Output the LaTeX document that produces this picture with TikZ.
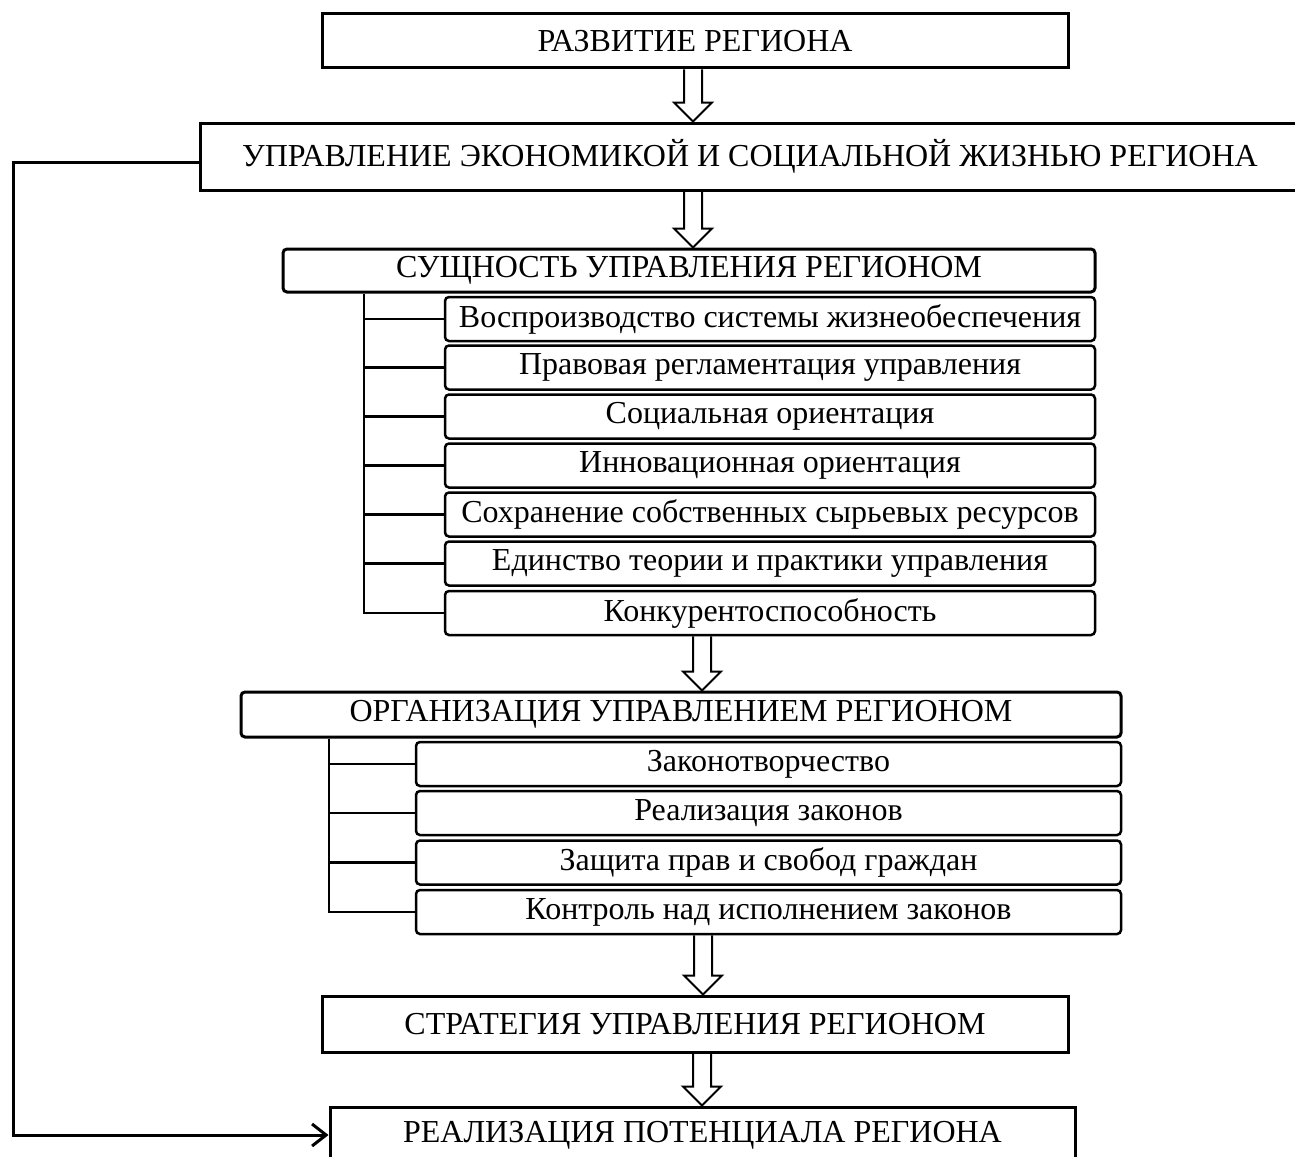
\documentclass[tikz,border=0pt]{standalone}
\usepackage{fontspec}
\setmainfont{Liberation Serif}
\usetikzlibrary{arrows.meta,calc}
\newcommand\harrow[3]{%
  \draw[line width=2pt, line join=miter] let \p1=(#2.south), \p2=(#3.north) in
    (#1pt-9pt,\y1) -- (#1pt-9pt,\y2+19pt) -- (#1pt-19pt,\y2+19pt) -- (#1pt,\y2)
    -- (#1pt+19pt,\y2+19pt) -- (#1pt+9pt,\y2+19pt) -- (#1pt+9pt,\y1);}
\begin{document}
\begin{tikzpicture}[x=1pt,y=-1pt,
  txt/.style={font=\fontsize{32}{38}\selectfont},
  bigbox/.style={draw, line width=3pt, inner sep=0pt, txt},
  topbox/.style={draw, line width=3pt, rounded corners=4pt, inner sep=0pt, txt},
  subbox/.style={draw, line width=2.5pt, rounded corners=4pt, inner sep=0pt, txt,
    minimum height=44pt},
  tree/.style={line width=2.6pt},
  fb/.style={line width=3pt, -{Straight Barb[length=14pt,width=22pt,line width=3pt]}}]
\useasboundingbox (0,0) rectangle (1295,1156);
\clip (0,0) rectangle (1295,1156);

\node[bigbox, minimum width=746pt, minimum height=54pt] (b1) at (695,41) {РАЗВИТИЕ РЕГИОНА};
\node[bigbox, minimum width=1100pt, minimum height=67pt] (b2) at (750,156.5) {УПРАВЛЕНИЕ ЭКОНОМИКОЙ И СОЦИАЛЬНОЙ ЖИЗНЬЮ РЕГИОНА};
\node[topbox, minimum width=812pt, minimum height=43pt] (b3) at (689,270.5) {СУЩНОСТЬ УПРАВЛЕНИЯ РЕГИОНОМ};

\node[subbox, minimum width=650pt] (s1) at (770,319) {Воспроизводство системы жизнеобеспечения};
\node[subbox, minimum width=650pt] (s2) at (770,367.5) {Правовая регламентация управления};
\node[subbox, minimum width=650pt] (s3) at (770,416.5) {Социальная ориентация};
\node[subbox, minimum width=650pt] (s4) at (770,465.5) {Инновационная ориентация};
\node[subbox, minimum width=650pt] (s5) at (770,514.5) {Сохранение собственных сырьевых ресурсов};
\node[subbox, minimum width=650pt] (s6) at (770,563.5) {Единство теории и практики управления};
\node[subbox, minimum width=650pt] (s7) at (770,613) {Конкурентоспособность};

\node[topbox, minimum width=880pt, minimum height=45pt] (b4) at (681,714.5) {ОРГАНИЗАЦИЯ УПРАВЛЕНИЕМ РЕГИОНОМ};

\node[subbox, minimum width=705pt] (t1) at (768.5,764) {Законотворчество};
\node[subbox, minimum width=705pt] (t2) at (768.5,813) {Реализация законов};
\node[subbox, minimum width=705pt] (t3) at (768.5,862.5) {Защита прав и свобод граждан};
\node[subbox, minimum width=705pt] (t4) at (768.5,912) {Контроль над исполнением законов};

\node[bigbox, minimum width=746pt, minimum height=56pt] (b5) at (695,1024) {СТРАТЕГИЯ УПРАВЛЕНИЯ РЕГИОНОМ};
\node[bigbox, minimum width=745pt, minimum height=56pt] (b6) at (702.5,1135) {РЕАЛИЗАЦИЯ ПОТЕНЦИАЛА РЕГИОНА};

% trees
\coordinate (ta) at (364,0);
\coordinate (tb) at (329,0);
\draw[tree] (b3.south -| ta) |- (s7.west);
\foreach \n in {s1,s2,s3,s4,s5,s6} \draw[tree] (\n.west -| ta) -- (\n.west);
\draw[tree] (b4.south -| tb) |- (t4.west);
\foreach \n in {t1,t2,t3} \draw[tree] (\n.west -| tb) -- (\n.west);

% hollow arrows
\harrow{693}{b1}{b2}
\harrow{693}{b2}{b3}
\harrow{702}{s7}{b4}
\harrow{703}{t4}{b5}
\harrow{702}{b5}{b6}

% feedback
\coordinate (fl) at (13,0);
\draw[fb] ([yshift=-6pt]b2.west) -- ([yshift=-6pt]b2.west -| fl) |- (b6.west);
\end{tikzpicture}
\end{document}
